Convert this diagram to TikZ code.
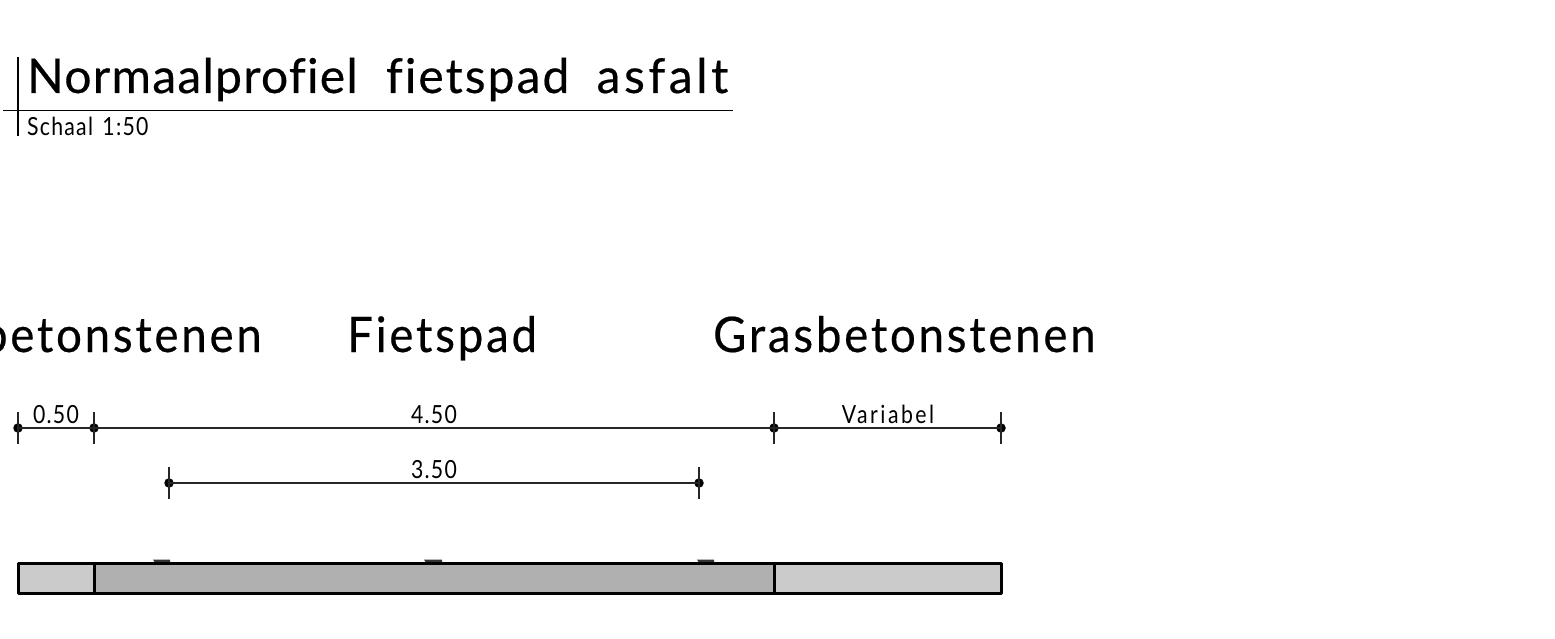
\documentclass[tikz,border=0pt]{standalone}
\usepackage{fontspec}
\setmainfont{Lato}[Ligatures=NoCommon]
\newfontface\titlea{Lato}[Ligatures=NoCommon,LetterSpace=2.6,FakeBold=0.4]
\newfontface\titleb{Lato}[Ligatures=NoCommon,LetterSpace=4.2,FakeBold=0.4]
\newfontface\titlec{Lato}[Ligatures=NoCommon,LetterSpace=7.5,FakeBold=0.4]
\newfontface\headf{Lato}[Ligatures=NoCommon,LetterSpace=5.7,FakeStretch=0.93,FakeBold=0.4]
\newfontface\smallf{Lato}[Ligatures=NoCommon,FakeStretch=0.85,LetterSpace=5,WordSpace=1.4]
\newfontface\widef{Lato}[Ligatures=NoCommon,FakeStretch=0.85,LetterSpace=10]
\definecolor{fillA}{HTML}{CBCBCB}
\definecolor{fillB}{HTML}{B0B0B0}
\tikzset{x=1pt,y=-1pt,
 dimline/.style={line width=1.1pt,color=black!85},
 tick/.style={line width=1.2pt,color=black!85},
 dot/.style={circle,fill=black,inner sep=0pt,minimum size=9.5pt},
 body/.style={draw=black,line width=3pt,line join=round},
 lab/.style={anchor=base,inner sep=0pt,text=black},
 title/.style={lab,anchor=base west,font=\fontsize{48}{48}\selectfont},
 head/.style={lab,anchor=base west,font=\headf\fontsize{49}{49}\selectfont},
 dimlab/.style={lab,font=\smallf\fontsize{25}{25}\selectfont}}
\begin{document}
\begin{tikzpicture}
\useasboundingbox (0,0) rectangle (1555,639);
% title
\node[title] (title) at (27,93) {{\titlea\fontsize{48}{48}\selectfont Normaalprofiel}\hspace{16pt} {\titleb\fontsize{48}{48}\selectfont fietspad}\hspace{15pt} {\titlec\fontsize{48}{48}\selectfont asfalt}};
\node[dimlab,anchor=base west] (scale) at (27,136) {Schaal 1:50};
\coordinate (h1) at (3,110.5); \coordinate (h2) at (733,110.5);
\coordinate (v1) at (18,57); \coordinate (v2) at (18,136);
\draw[line width=1.4pt] (h1) -- (h2);
\draw[line width=1.4pt] (v1) -- (v2);
% headings
\node[head,anchor=base east] (g1) at (262,352) {Grasbetonstenen};
\node[head] (f) at (347,352) {Fietspad};
\node[head] (g2) at (713,352) {Grasbetonstenen};
% dimension line 1
\node[dot] (a) at (18,428) {};
\node[dot] (b) at (94,428) {};
\node[dot] (c) at (774,428) {};
\node[dot] (d) at (1001,428) {};
\draw[dimline] (a.center) -- (b.center) -- (c.center) -- (d.center);
\foreach \n in {a,b,c,d} \draw[tick] ([yshift=16pt]\n.center) -- ([yshift=-16pt]\n.center);
\node[dimlab] (t1) at (56,423) {0.50};
\node[dimlab] (t2) at (434,423) {4.50};
\node[lab,font=\widef\fontsize{25}{25}\selectfont] (t3) at (888,423) {Variabel};
% dimension line 2
\node[dot] (e) at (169,483) {};
\node[dot] (g) at (699,483) {};
\draw[dimline] (e.center) -- (g.center);
\foreach \n in {e,g} \draw[tick] ([yshift=16pt]\n.center) -- ([yshift=-16pt]\n.center);
\node[dimlab] (t4) at (434,478) {3.50};
% markers
\fill[black!80] (153,559.5) -- (170,559.5) -- (170,563) -- (155,563) -- cycle;
\fill[black!80] (424,559.5) -- (442,559.5) -- (442,563) -- (426,563) -- cycle;
\fill[black!80] (697,559.5) -- (714,559.5) -- (714,563) -- (699,563) -- cycle;
% body
\draw[body,fill=fillA] (18,563) rectangle (94,593);
\draw[body,fill=fillB] (94,563) rectangle (774,593);
\draw[body,fill=fillA] (774,563) rectangle (1001,593);
\end{tikzpicture}
\end{document}
